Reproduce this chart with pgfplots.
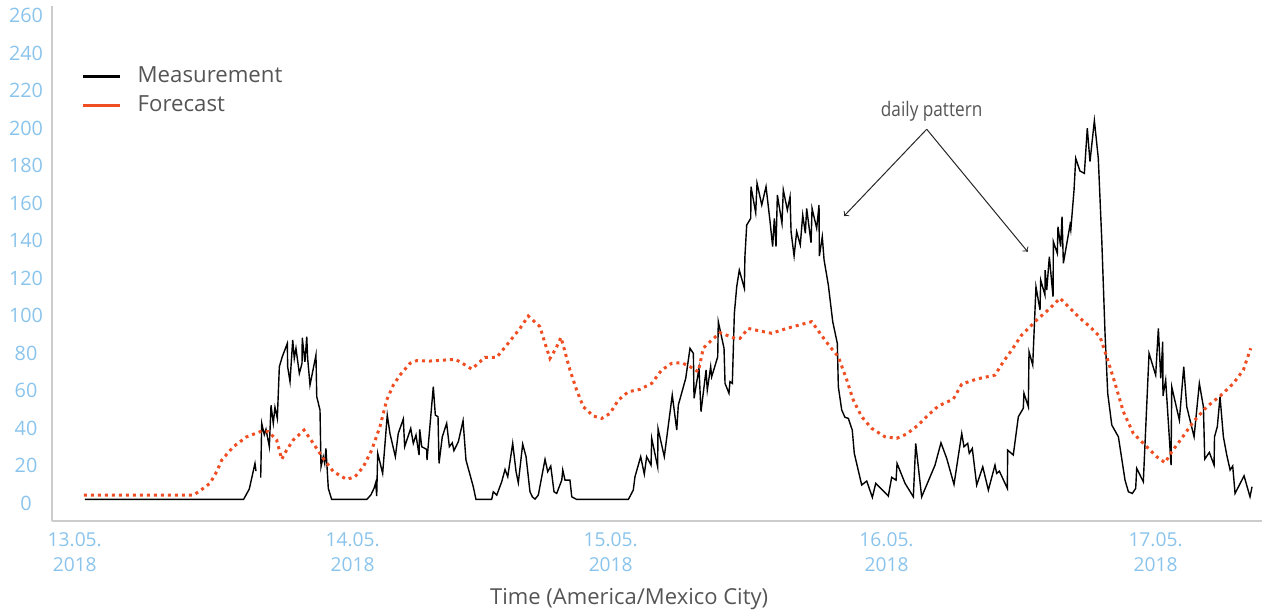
\documentclass[border=0pt]{standalone}
\usepackage{fontspec}
\setmainfont{Open Sans}
\newfontfamily\condfont[FakeStretch=0.86]{Open Sans}
\usepackage{pgfplots}
\pgfplotsset{compat=1.18}
\usetikzlibrary{calc}
\definecolor{ticklab}{RGB}{138,196,236}
\definecolor{txtgray}{RGB}{85,85,85}
\definecolor{fcast}{RGB}{238,78,34}
\definecolor{axgray}{RGB}{204,204,204}
\begin{document}
\begin{tikzpicture}
\begin{axis}[name=ax,
  width=605pt, height=257.5pt, scale only axis,
  xmin=-2.226, xmax=105.53, ymin=-9.4, ymax=265.2,
  axis x line=bottom, axis y line=left,
  axis line style={draw=axgray, line width=0.6pt, -},
  major tick length=0pt,
  ytick={0,20,...,260},
  xtick={-0.20,24.55,47.53,72.09,96.05},
  xticklabels={{13.05.\\2018},{14.05.\\2018},{15.05.\\2018},{16.05.\\2018},{17.05.\\2018}},
  xticklabel style={align=center, font=\fontsize{9.6}{12.5}\selectfont, text=ticklab, anchor=north, yshift=-2pt},
  yticklabel style={anchor=center, xshift=-13pt, font=\fontsize{9.9}{12}\selectfont, text=ticklab},
  /pgf/number format/assume math mode=true,
  unbounded coords=jump,
  xlabel={Time (America/Mexico City)},
  xlabel style={at={(axis description cs:0.477,-0.152)}, anchor=center, font=\fontsize{11}{13}\selectfont, text=txtgray},
  legend image code/.code={\draw[#1] (0pt,0pt) -- (18.5pt,0pt);},
  legend cell align=left,
  legend style={inner sep=0pt, outer sep=0pt, draw=none, fill=none,
    at={(axis description cs:0.0248,0.884)}, anchor=north west,
    nodes={inner sep=0pt, text height=8.5pt, text depth=2.5pt, text=txtgray, font=\fontsize{11.1}{13}\selectfont},
    row sep=3.5pt,
    /tikz/every odd column/.append style={column sep=8pt}},
]
\addplot[black, line width=0.7pt, forget plot] coordinates {
(0.71,2.1) (14.83,2.1) (15.34,7.6) (15.85,21.3) (15.94,17.2) (15.98,nan) (16.36,13.7) (16.45,42.7) (16.68,36.6) (16.83,39.5) (17.13,30.2) (17.28,52.3) (17.48,42.7) (17.63,51.2) (17.84,45.3) (18.02,72.9) (18.28,78.2) (18.73,85.3) (18.76,72.9) (18.97,64.9) (19.21,87.1) (19.35,77.3) (19.50,82.7) (19.80,69.3) (20.04,74.7) (20.06,88.3) (20.30,75.5) (20.46,88.9) (20.54,77.3) (20.75,63.1) (21.28,79.1) (21.35,56.9) (21.64,49.8) (21.73,19.5) (21.93,24.9) (22.06,21.3) (22.17,29.3) (22.38,8.0) (22.68,2.1) (25.80,2.1) (26.16,4.4) (26.45,8.0) (26.60,11.0) (26.69,3.9) (26.78,26.7) (27.22,16.0) (27.63,47.1) (27.87,37.3) (28.35,24.9) (28.61,37.3) (29.06,45.0) (29.18,30.2) (29.72,40.0) (29.95,32.0) (30.19,36.4) (30.46,25.8) (30.52,39.5) (30.70,30.2) (31.14,28.8) (31.17,23.1) (31.73,62.2) (31.91,47.1) (32.15,46.2) (32.24,21.3) (32.53,35.5) (32.92,42.7) (33.16,30.2) (33.42,32.3) (33.57,28.1) (33.96,32.9) (34.38,44.1) (34.64,23.1) (35.29,8.9) (35.53,2.1) (36.93,2.1) (37.07,6.2) (37.38,4.4) (37.82,11.5) (38.12,18.1) (38.36,14.2) (38.80,32.0) (39.10,16.9) (39.30,11.0) (39.69,31.6) (39.99,24.9) (40.34,6.2) (40.56,3.4) (40.79,2.3) (41.08,4.4) (41.68,23.5) (41.92,16.9) (42.19,19.9) (42.48,6.2) (42.72,5.3) (43.17,12.4) (43.26,17.8) (43.46,12.4) (43.90,12.4) (44.06,3.5) (44.50,2.1) (49.10,2.1) (49.54,7.1) (49.69,14.2) (50.20,24.9) (50.52,15.6) (50.73,24.9) (51.12,20.4) (51.18,34.7) (51.71,19.5) (51.74,40.0) (52.30,24.9) (53.01,57.8) (53.41,39.1) (53.55,52.4) (54.21,66.7) (54.59,82.7) (54.89,80.0) (54.95,56.0) (55.39,72.0) (55.57,48.9) (56.02,71.1) (56.13,60.4) (56.43,72.9) (56.52,67.5) (57.06,78.2) (57.11,96.9) (57.62,82.7) (57.71,64.0) (58.06,58.7) (58.15,64.9) (58.36,64.0) (58.54,101.3) (58.75,115.5) (58.98,124.4) (59.43,114.7) (59.48,131.5) (59.64,148.4) (60.00,152.0) (60.02,168.9) (60.44,155.0) (60.56,170.7) (60.98,159.1) (61.36,168.9) (61.72,150.2) (61.95,136.9) (62.10,152.0) (62.25,136.9) (62.37,164.4) (62.78,149.3) (62.90,167.1) (63.26,156.4) (63.50,163.5) (63.59,144.9) (63.86,131.9) (64.09,144.9) (64.41,137.8) (64.63,153.8) (64.86,144.0) (64.98,157.3) (65.37,139.0) (65.46,157.3) (65.87,146.7) (66.08,159.1) (66.11,131.9) (66.37,142.2) (66.53,129.8) (66.91,116.4) (67.30,96.9) (67.71,85.3) (67.80,62.2) (68.10,49.8) (68.39,45.9) (68.69,45.3) (69.04,39.1) (69.22,26.7) (69.88,9.8) (70.33,11.9) (70.83,3.2) (71.13,10.7) (72.25,3.9) (72.55,13.9) (72.94,12.4) (73.03,21.3) (73.74,10.7) (74.48,3.5) (74.69,32.0) (75.22,3.5) (76.41,20.4) (76.94,32.3) (77.45,24.0) (78.10,10.1) (78.79,37.3) (78.99,30.2) (79.32,32.0) (79.46,26.7) (79.73,29.3) (80.12,9.8) (80.66,19.5) (81.16,7.1) (81.75,20.4) (81.90,16.0) (82.14,17.2) (82.85,8.0) (82.88,28.4) (83.38,25.8) (83.83,46.2) (84.27,50.7) (84.33,58.7) (84.72,51.5) (84.78,80.9) (85.11,73.8) (85.40,115.5) (85.76,103.1) (85.82,119.1) (86.20,111.1) (86.22,124.4) (86.36,113.8) (86.59,131.5) (86.92,110.2) (86.95,139.5) (87.30,133.3) (87.36,147.5) (87.60,136.9) (87.72,152.9) (87.84,128.0) (88.43,148.4) (88.50,145.8) (88.79,167.1) (88.94,184.0) (89.32,177.2) (89.71,176.0) (89.97,200.0) (90.21,182.2) (90.60,204.1) (90.95,184.0) (91.26,140.4) (91.55,90.7) (91.79,58.7) (92.15,41.8) (92.74,35.5) (93.33,12.4) (93.63,6.2) (93.98,5.3) (94.28,8.0) (94.37,18.7) (94.96,11.5) (95.47,80.0) (96.06,68.4) (96.30,93.3) (96.51,66.7) (96.69,86.2) (96.71,57.2) (96.95,65.8) (97.43,20.4) (97.49,62.2) (98.17,44.4) (98.56,72.9) (98.83,51.5) (99.48,35.5) (99.95,64.0) (100.31,51.5) (100.43,23.6) (100.84,27.2) (101.26,20.4) (101.30,35.5) (101.55,40.9) (101.79,56.9) (102.09,35.5) (102.39,25.8) (102.69,17.8) (102.92,19.9) (103.13,5.3) (103.93,14.7) (104.46,3.5) (104.64,8.9)
};
\addplot[fcast, line width=1.5pt, dash pattern=on 1.5pt off 2pt, forget plot] coordinates {
(0.62,4.4) (10.36,4.4) (10.95,6.7) (11.84,10.7) (12.44,16.9) (12.89,23.1) (13.92,30.2) (15.11,35.5) (16.30,38.2) (17.04,38.2) (17.78,33.8) (18.23,23.5) (18.67,28.4) (19.26,33.8) (20.22,39.1) (21.04,32.0) (21.93,24.0) (22.83,16.9) (24.02,12.8) (24.76,14.2) (25.50,19.5) (26.24,28.4) (26.98,40.9) (27.58,55.1) (28.17,63.1) (28.76,68.4) (29.66,74.7) (30.25,76.1) (31.44,75.9) (33.66,76.8) (34.11,75.5) (35.15,71.6) (36.33,77.9) (37.38,77.9) (38.27,84.4) (39.45,93.3) (40.19,99.9) (41.23,94.2) (41.68,85.3) (42.12,77.3) (42.66,82.7) (43.10,88.5) (43.25,85.3) (43.90,71.1) (44.50,60.4) (45.09,51.5) (45.98,46.6) (46.73,45.3) (47.47,48.0) (48.21,55.1) (49.10,59.5) (50.14,60.8) (51.18,64.0) (52.07,71.1) (52.96,74.7) (53.85,75.0) (54.59,72.9) (55.33,70.2) (55.77,82.7) (56.37,86.2) (57.26,91.0) (58.60,88.0) (59.04,88.0) (59.78,93.3) (60.82,91.9) (61.87,90.7) (63.20,93.3) (65.43,96.9) (66.17,90.7) (67.06,83.5) (67.80,78.2) (68.55,65.8) (69.13,55.1) (69.88,46.2) (70.77,40.0) (71.96,35.5) (73.00,34.7) (73.89,37.0) (74.92,41.8) (75.81,47.1) (76.70,51.9) (78.04,55.6) (78.79,63.6) (80.12,66.3) (81.75,68.4) (82.49,75.5) (83.24,81.8) (84.13,89.8) (85.47,97.8) (86.65,104.0) (87.54,109.4) (88.43,104.0) (89.32,98.7) (90.21,94.2) (91.10,88.9) (91.70,78.2) (92.44,64.0) (93.18,48.9) (94.07,37.3) (95.26,30.2) (96.15,24.9) (96.89,21.7) (97.49,27.5) (98.38,34.7) (99.41,43.5) (100.61,51.5) (101.79,57.2) (102.98,64.0) (103.87,71.1) (104.52,82.7)
};
\addlegendimage{black, line width=1.35pt}
\addlegendentry{Measurement}
\addlegendimage{fcast, line width=1.35pt}
\addlegendentry{Forecast}
\node[font=\condfont\fontsize{10}{12}\selectfont, text=txtgray] at (axis cs:76.11,209.3) {daily pattern};
\draw[->, line width=0.5pt, black!85] (axis cs:75.67,199.5) -- (axis cs:68.31,153.2);
\draw[->, line width=0.5pt, black!85] (axis cs:75.67,199.5) -- (axis cs:84.66,134.2);
\end{axis}
\pgfresetboundingbox
\path[use as bounding box] ($(ax.south west)+(-26pt,-46pt)$) rectangle ($(ax.north east)+(0pt,3pt)$);
\end{tikzpicture}
\end{document}
